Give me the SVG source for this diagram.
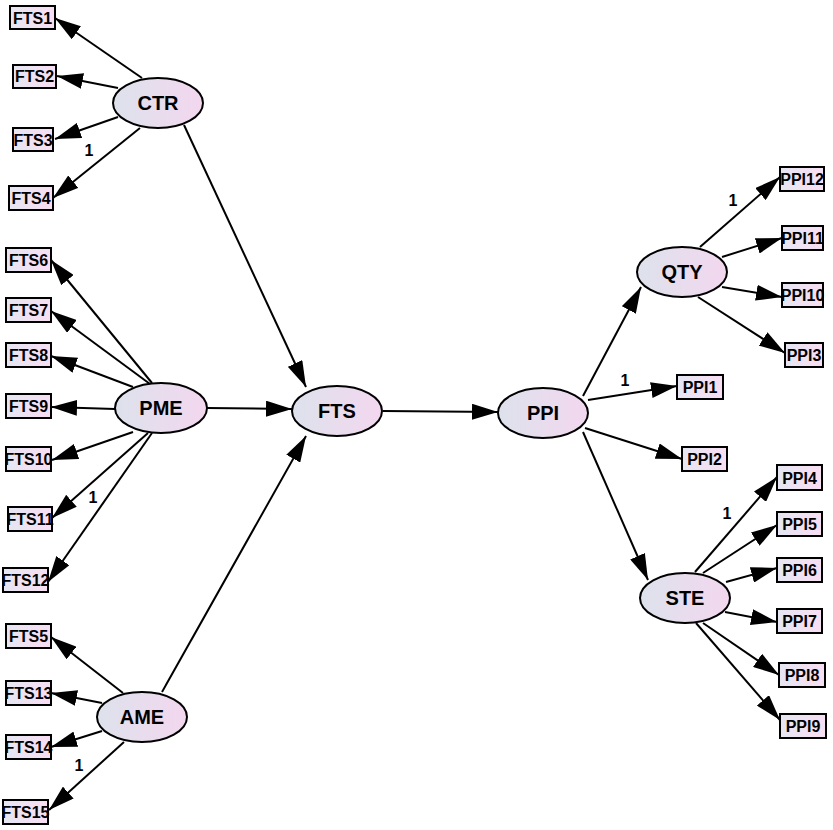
<svg xmlns="http://www.w3.org/2000/svg" width="833" height="830" viewBox="0 0 833 830">
<defs>
<linearGradient id="gb" x1="0" y1="0" x2="1" y2="0"><stop offset="0" stop-color="#e6e6f2"/><stop offset="1" stop-color="#f8def3"/></linearGradient>
<linearGradient id="ge" x1="0" y1="0" x2="1" y2="0"><stop offset="0" stop-color="#dde2ec"/><stop offset="1" stop-color="#f3d7ef"/></linearGradient>
<marker id="ah" markerWidth="26" markerHeight="16" refX="26" refY="8" orient="auto" markerUnits="userSpaceOnUse"><path d="M0,0 L26,8 L0,16 z" fill="#000"/></marker>
</defs>
<style>
.b rect{fill:url(#gb);stroke:#000;stroke-width:2}
.b text{font-family:"Liberation Sans",Arial,sans-serif;font-weight:bold;font-size:16px;text-anchor:middle;fill:#000}
.e ellipse{fill:url(#ge);stroke:#000;stroke-width:2}
.e text{font-family:"Liberation Sans",Arial,sans-serif;font-weight:bold;font-size:20px;text-anchor:middle;fill:#000}
#edges line{stroke:#000;stroke-width:2;marker-end:url(#ah)}
.lbl{font-family:"Liberation Sans",Arial,sans-serif;font-weight:bold;font-size:16px;text-anchor:middle;fill:#000}
</style>
<rect width="833" height="830" fill="#fff"/>
<g id="edges">
<line x1="142" y1="78" x2="55" y2="18"/>
<line x1="118" y1="88" x2="57" y2="76"/>
<line x1="118" y1="117" x2="55" y2="139"/>
<line x1="140" y1="128" x2="53" y2="198"/>
<line x1="184" y1="125" x2="306" y2="387"/>
<line x1="152" y1="383" x2="51" y2="260"/>
<line x1="150" y1="384" x2="51" y2="311"/>
<line x1="133" y1="387" x2="51" y2="356"/>
<line x1="115" y1="409" x2="51" y2="407"/>
<line x1="133" y1="432" x2="52" y2="460"/>
<line x1="148" y1="433" x2="52" y2="518"/>
<line x1="152" y1="433" x2="48" y2="582"/>
<line x1="207" y1="408" x2="292" y2="409"/>
<line x1="123" y1="693" x2="51" y2="637"/>
<line x1="102" y1="703" x2="51" y2="693"/>
<line x1="102" y1="731" x2="51" y2="747"/>
<line x1="124" y1="742" x2="49" y2="810"/>
<line x1="162" y1="692" x2="306" y2="436"/>
<line x1="383" y1="411" x2="498" y2="412"/>
<line x1="583" y1="396" x2="641" y2="287"/>
<line x1="588" y1="400" x2="677" y2="386"/>
<line x1="585" y1="428" x2="682" y2="459"/>
<line x1="583" y1="432" x2="648" y2="580"/>
<line x1="700" y1="247" x2="780" y2="177"/>
<line x1="722" y1="257" x2="782" y2="238"/>
<line x1="722" y1="287" x2="782" y2="297"/>
<line x1="698" y1="297" x2="785" y2="353"/>
<line x1="695" y1="572" x2="777" y2="477"/>
<line x1="703" y1="573" x2="777" y2="525"/>
<line x1="726" y1="582" x2="777" y2="568"/>
<line x1="725" y1="612" x2="777" y2="622"/>
<line x1="703" y1="623" x2="779" y2="675"/>
<line x1="696" y1="623" x2="780" y2="720"/>
<text class="lbl" x="89" y="156">1</text>
<text class="lbl" x="93" y="503">1</text>
<text class="lbl" x="79" y="771">1</text>
<text class="lbl" x="625" y="386">1</text>
<text class="lbl" x="733" y="206">1</text>
<text class="lbl" x="727" y="519">1</text>
</g>
<g id="CTR" class="e"><ellipse cx="158" cy="103" rx="45" ry="25"/><text x="158" y="110">CTR</text></g>
<g id="PME" class="e"><ellipse cx="161" cy="408" rx="46" ry="25"/><text x="161" y="415">PME</text></g>
<g id="AME" class="e"><ellipse cx="142" cy="717" rx="45" ry="25"/><text x="142" y="724">AME</text></g>
<g id="FTS" class="e"><ellipse cx="337" cy="411" rx="45" ry="25"/><text x="337" y="418">FTS</text></g>
<g id="PPI" class="e"><ellipse cx="543" cy="413" rx="45" ry="25"/><text x="543" y="420">PPI</text></g>
<g id="QTY" class="e"><ellipse cx="682" cy="272" rx="45" ry="25"/><text x="682" y="279">QTY</text></g>
<g id="STE" class="e"><ellipse cx="685" cy="598" rx="45" ry="25"/><text x="685" y="605">STE</text></g>
<g id="FTS1" class="b"><rect x="10" y="6" width="45" height="23"/><text x="32.5" y="23.5">FTS1</text></g>
<g id="FTS2" class="b"><rect x="13" y="65" width="43" height="23"/><text x="34.5" y="82">FTS2</text></g>
<g id="FTS3" class="b"><rect x="13" y="128" width="40" height="23"/><text x="33" y="145.5">FTS3</text></g>
<g id="FTS4" class="b"><rect x="9" y="186" width="44" height="24"/><text x="31" y="204">FTS4</text></g>
<g id="FTS6" class="b"><rect x="6" y="248" width="45" height="24"/><text x="28.5" y="266">FTS6</text></g>
<g id="FTS7" class="b"><rect x="6" y="298" width="45" height="24"/><text x="28.5" y="316">FTS7</text></g>
<g id="FTS8" class="b"><rect x="6" y="343" width="45" height="24"/><text x="28.5" y="361">FTS8</text></g>
<g id="FTS9" class="b"><rect x="6" y="394" width="45" height="24"/><text x="28.5" y="412">FTS9</text></g>
<g id="FTS10" class="b"><rect x="6" y="447" width="45" height="24"/><text x="28.5" y="465">FTS10</text></g>
<g id="FTS11" class="b"><rect x="8" y="507" width="44" height="24"/><text x="30" y="525">FTS11</text></g>
<g id="FTS12" class="b"><rect x="3" y="568" width="45" height="24"/><text x="25.5" y="586">FTS12</text></g>
<g id="FTS5" class="b"><rect x="6" y="624" width="45" height="24"/><text x="28.5" y="642">FTS5</text></g>
<g id="FTS13" class="b"><rect x="6" y="681" width="45" height="24"/><text x="28.5" y="699">FTS13</text></g>
<g id="FTS14" class="b"><rect x="6" y="735" width="45" height="24"/><text x="28.5" y="753">FTS14</text></g>
<g id="FTS15" class="b"><rect x="3" y="800" width="45" height="24"/><text x="25.5" y="818">FTS15</text></g>
<g id="PPI12" class="b"><rect x="780" y="167" width="44" height="24"/><text x="802" y="185">PPI12</text></g>
<g id="PPI11" class="b"><rect x="782" y="226" width="41" height="24"/><text x="802.5" y="244">PPI11</text></g>
<g id="PPI10" class="b"><rect x="782" y="283" width="41" height="24"/><text x="802.5" y="301">PPI10</text></g>
<g id="PPI3" class="b"><rect x="785" y="343" width="38" height="24"/><text x="804" y="361">PPI3</text></g>
<g id="PPI1" class="b"><rect x="677" y="375" width="46" height="24"/><text x="700" y="393">PPI1</text></g>
<g id="PPI2" class="b"><rect x="682" y="447" width="45" height="24"/><text x="704.5" y="465">PPI2</text></g>
<g id="PPI4" class="b"><rect x="777" y="465" width="45" height="25"/><text x="799.5" y="483.5">PPI4</text></g>
<g id="PPI5" class="b"><rect x="777" y="512" width="45" height="24"/><text x="799.5" y="530">PPI5</text></g>
<g id="PPI6" class="b"><rect x="777" y="558" width="45" height="24"/><text x="799.5" y="576">PPI6</text></g>
<g id="PPI7" class="b"><rect x="777" y="609" width="45" height="24"/><text x="799.5" y="627">PPI7</text></g>
<g id="PPI8" class="b"><rect x="779" y="663" width="46" height="24"/><text x="802" y="681">PPI8</text></g>
<g id="PPI9" class="b"><rect x="780" y="714" width="46" height="24"/><text x="803" y="732">PPI9</text></g>
</svg>
